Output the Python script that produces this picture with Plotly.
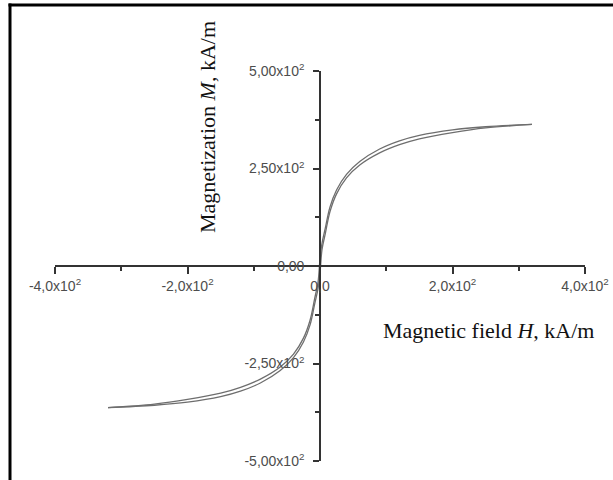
import plotly.graph_objects as go

# Hysteresis loop: field H (kA/m) and magnetization M (kA/m)
H_desc = [320, 250, 200, 150, 120, 90, 60, 40, 25, 15, 8, 3, 0,
          -3, -8, -15, -25, -40, -60, -90, -120, -150, -200, -250, -320]
M_desc = [363, 357, 349, 335, 321, 300, 268, 235, 195, 151, 97, 58, 18,
          -42, -83, -139, -185, -226, -259, -290, -311, -326, -342, -354, -363]

H_asc = [-320, -250, -200, -150, -120, -90, -60, -40, -25, -15, -8, -3, 0,
         3, 8, 15, 25, 40, 60, 90, 120, 150, 200, 250, 320]
M_asc = [-363, -357, -349, -335, -321, -300, -268, -235, -195, -151, -97, -58, -18,
         42, 83, 139, 185, 226, 259, 290, 311, 326, 342, 354, 363]

x_tickvals = [-400, -200, 0, 200, 400]
x_ticktext = ["-4,0x10<sup>2</sup>", "-2,0x10<sup>2</sup>", "0,0",
              "2,0x10<sup>2</sup>", "4,0x10<sup>2</sup>"]
y_tickvals = [-500, -250, 0, 250, 500]
y_ticktext = ["-5,00x10<sup>2</sup>", "-2,50x10<sup>2</sup>", "0,00",
              "2,50x10<sup>2</sup>", "5,00x10<sup>2</sup>"]

W, Hpx = 613, 480
line_col = "#6e6e6e"

fig = go.Figure()
fig.add_trace(go.Scatter(x=H_desc, y=M_desc, mode="lines",
                         line=dict(color=line_col, width=1.3, shape="spline"),
                         showlegend=False))
fig.add_trace(go.Scatter(x=H_asc, y=M_asc, mode="lines",
                         line=dict(color=line_col, width=1.3, shape="spline"),
                         showlegend=False))

tick_font = dict(family="Liberation Sans, Arial, sans-serif", size=14, color="#4d4d4d")
axis_col = "#333333"
title_font = dict(family="Liberation Serif, Times New Roman, serif", size=22, color="#111111")

fig.update_layout(
    width=W, height=Hpx, autosize=False,
    margin=dict(l=0, r=0, t=0, b=0, pad=0),
    paper_bgcolor="white", plot_bgcolor="white",
    xaxis=dict(
        domain=[55 / W, 585 / W], range=[-400, 400],
        anchor="free", position=1 - 266 / Hpx, automargin=False,
        showgrid=False, zeroline=False,
        showline=True, linecolor=axis_col, linewidth=1.6,
        ticks="outside", ticklen=7, tickwidth=1.6, tickcolor=axis_col,
        tickvals=x_tickvals, ticktext=x_ticktext, tickfont=tick_font,
        minor=dict(ticks="outside", ticklen=4, tickwidth=1.6,
                   tickcolor=axis_col, dtick=100, tick0=0, showgrid=False),
    ),
    yaxis=dict(
        domain=[1 - 461 / Hpx, 1 - 71 / Hpx], range=[-500, 500],
        anchor="free", position=320 / W, automargin=False,
        showgrid=False, zeroline=False,
        showline=True, linecolor=axis_col, linewidth=1.6,
        ticks="outside", ticklen=6, tickwidth=1.6, tickcolor=axis_col,
        tickvals=y_tickvals, ticktext=y_ticktext, tickfont=tick_font,
        ticklabelstandoff=6,
        minor=dict(ticks="outside", ticklen=4, tickwidth=1.6,
                   tickcolor=axis_col, dtick=125, tick0=0, showgrid=False),
    ),
    shapes=[
        dict(type="line", xref="paper", yref="paper",
             x0=10 / W, x1=10 / W, y0=0, y1=1 - 3.5 / Hpx,
             line=dict(color="black", width=3)),
        dict(type="line", xref="paper", yref="paper",
             x0=8.5 / W, x1=1, y0=1 - 5 / Hpx, y1=1 - 5 / Hpx,
             line=dict(color="black", width=3)),
    ],
    annotations=[
        dict(text="Magnetic field <i>H</i>, kA/m", xref="paper", yref="paper",
             x=488 / W, y=1 - 330 / Hpx, xanchor="center", yanchor="middle",
             showarrow=False, font=title_font),
        dict(text="Magnetization <i>M</i>, kA/m", xref="paper", yref="paper",
             x=207 / W, y=1 - 127 / Hpx, xanchor="center", yanchor="middle",
             textangle=-90, showarrow=False, font=title_font),
    ],
)

fig.write_html("out.html")
